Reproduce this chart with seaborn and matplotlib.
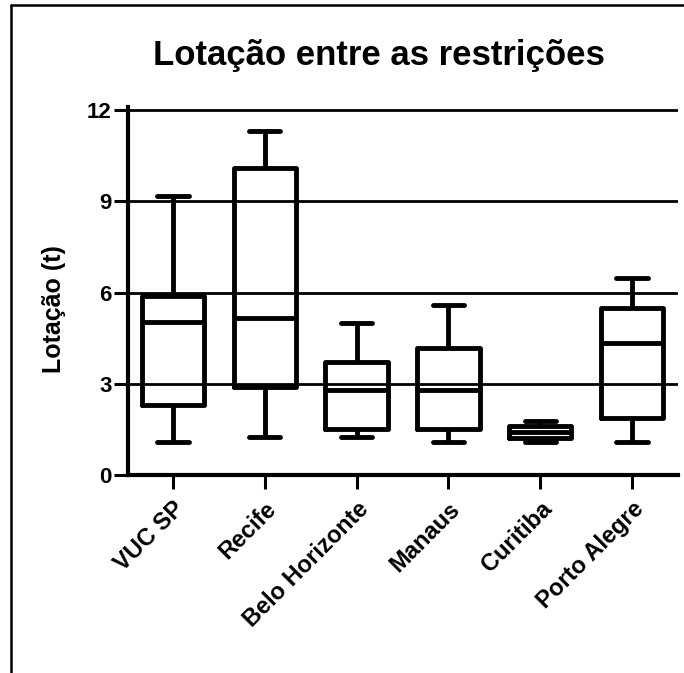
import matplotlib
matplotlib.use("Agg")
import matplotlib.pyplot as plt
import seaborn as sns
import pandas as pd
from matplotlib.lines import Line2D

# Data: five-number summaries (min, Q1, median, Q3, max)
cities = ["VUC SP", "Recife", "Belo Horizonte", "Manaus", "Curitiba", "Porto Alegre"]
mins    = [1.10, 1.26, 1.25, 1.09, 1.07, 1.09]
q1s     = [2.30, 2.88, 1.50, 1.50, 1.22, 1.87]
medians = [5.03, 5.15, 2.80, 2.80, 1.40, 4.35]
q3s     = [5.90, 10.10, 3.70, 4.19, 1.62, 5.50]
maxs    = [9.17, 11.30, 5.00, 5.58, 1.76, 6.47]
yticks = [0, 3, 6, 9, 12]

rows = []
for c, a, b, m, d, e in zip(cities, mins, q1s, medians, q3s, maxs):
    for v in (a, b, m, d, e):
        rows.append({"Cidade": c, "Lotação": v})
df = pd.DataFrame(rows)

sns.set_theme(style="white")
plt.rcParams["font.family"] = ["Liberation Sans", "DejaVu Sans"]
plt.rcParams["font.weight"] = "bold"
plt.rcParams["text.color"] = "black"
plt.rcParams["axes.labelcolor"] = "black"
plt.rcParams["xtick.color"] = "black"
plt.rcParams["ytick.color"] = "black"

fig = plt.figure(figsize=(6.84, 6.73), dpi=100)
ax = fig.add_axes([128/684, 198/673, 550/684, 368/673])

ax.yaxis.grid(True, color="black", linewidth=2.0, zorder=0)
ax.set_axisbelow(True)

sns.boxplot(data=df, x="Cidade", y="Lotação", order=cities, whis=(0, 100),
            width=0.68, linewidth=3.5, color="black", fill=False, ax=ax,
            linecolor="black")

ax.set_ylim(0, 12.1)
ax.set_xlim(-0.49, 5.5)
ax.set_yticks(yticks)
ax.set_yticklabels([str(t) for t in yticks], fontsize=16, fontweight="bold",
                   color="black")
ax.set_xticks(range(len(cities)))
ax.set_xticklabels(cities, rotation=45, ha="right", rotation_mode="anchor",
                   fontsize=17, fontweight="bold", color="black")
ax.tick_params(axis="both", which="major", direction="out", length=10,
               width=2.2, color="black", left=True, bottom=True, pad=2)
ax.tick_params(axis="x", pad=6)

for s in ("top", "right"):
    ax.spines[s].set_visible(False)
for s in ("left", "bottom"):
    ax.spines[s].set_linewidth(3)
    ax.spines[s].set_color("black")

ax.set_xlabel("")
ax.set_ylabel("Lotação (t)", fontsize=18, fontweight="bold", color="black")
ax.yaxis.set_label_coords(-0.112, 0.45)

fig.text(379/684, 1 - 55/673, "Lotação entre as restrições", ha="center",
         va="center", fontsize=25, fontweight="bold", color="black")

# figure frame lines (top and left)
fig.add_artist(Line2D([11/684, 11/684], [0, 1 - 5/673], transform=fig.transFigure,
                      color="black", linewidth=1.8))
fig.add_artist(Line2D([11/684, 1], [1 - 5/673, 1 - 5/673], transform=fig.transFigure,
                      color="black", linewidth=1.8))

fig.savefig("out.png", dpi=100)
